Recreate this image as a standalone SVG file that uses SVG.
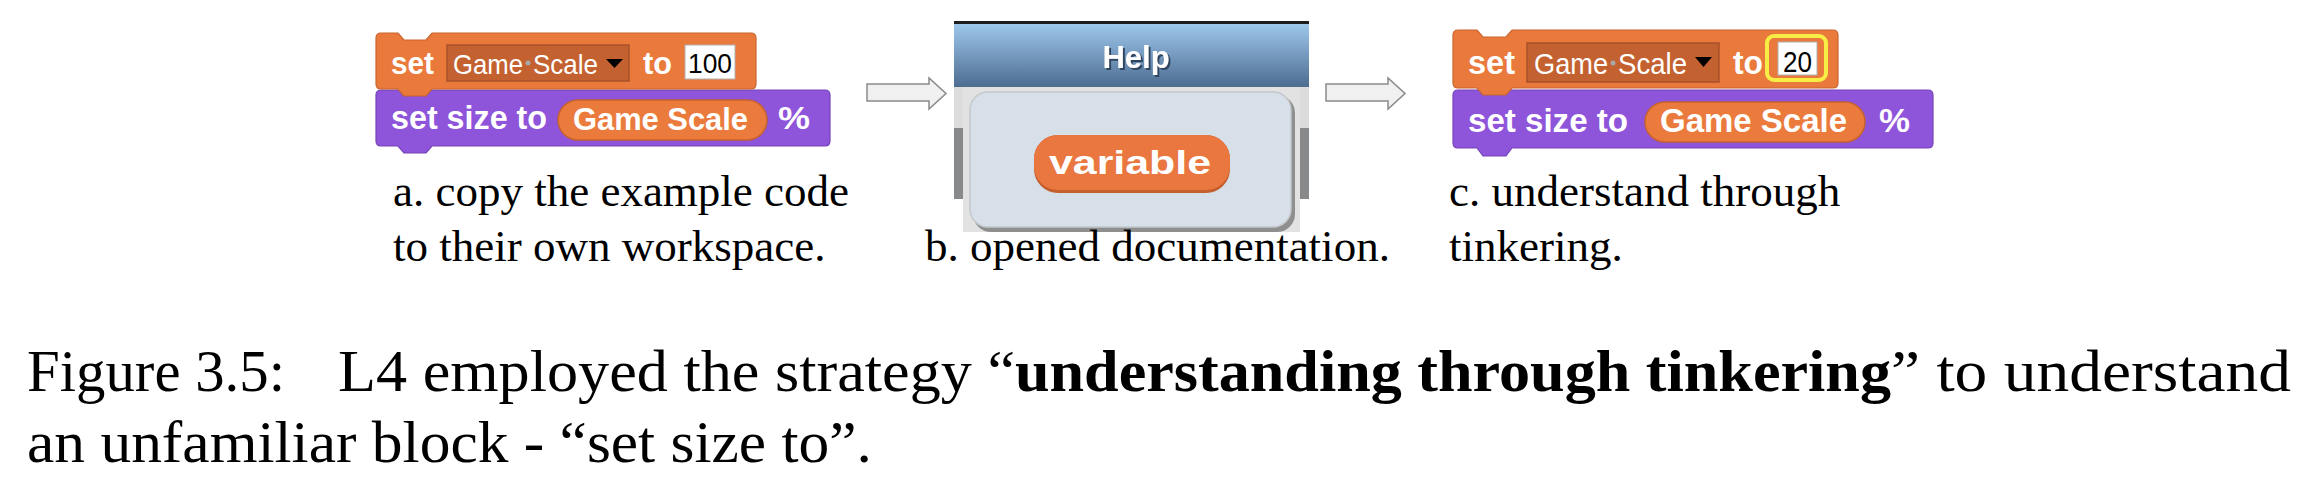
<svg xmlns="http://www.w3.org/2000/svg" width="2324" height="492" viewBox="0 0 2324 492">
<defs>
<linearGradient id="hdr" x1="0" y1="0" x2="0" y2="1">
<stop offset="0" stop-color="#9EC7EC"/>
<stop offset="1" stop-color="#4C6C90"/>
</linearGradient>
<filter id="shadow" x="-20%" y="-20%" width="140%" height="140%">
<feDropShadow dx="2" dy="2" stdDeviation="0.5" flood-color="#2E4460" flood-opacity="1"/>
</filter>
</defs>
<style>
.orange{fill:#EA7A3C;stroke:#C9652F;stroke-width:1.2}
.purple{fill:#8E54DA;stroke:#7443B8;stroke-width:1.2}
.dd{fill:#C46130;stroke:#A9512A;stroke-width:1.5}
.pill{fill:#EB7B3D;stroke:#C7622D;stroke-width:1.5}
.dot{fill:#A9A9A9}
.bw{font-family:"Liberation Sans",Arial,sans-serif;font-weight:bold;fill:#fff}
.nw{font-family:"Liberation Sans",Arial,sans-serif;fill:#fff}
.num{font-family:"Liberation Sans",Arial,sans-serif;fill:#000}
.lbl{font-family:"Liberation Serif","Times New Roman",serif;font-size:45px;fill:#000}
.cap{font-family:"Liberation Serif","Times New Roman",serif;font-size:60px;fill:#000}
.arrow{fill:#F0F0F0;stroke:#8A8A8A;stroke-width:1.5}
</style>
<rect width="2324" height="492" fill="#fff"/>

<g id="block-a">
<path class="purple" d="M376,95 Q376,90 381,90 L825,90 Q830,90 830,95 L830,141 Q830,146 825,146 L432,146 L426,153 L404,153 L398,146 L381,146 Q376,146 376,141 Z"/>
<path class="orange" d="M376,38 Q376,33 381,33 L398,33 L404,40 L426,40 L432,33 L751,33 Q756,33 756,38 L756,84 Q756,89 751,89 L432,89 L426,96 L404,96 L398,89 L381,89 Q376,89 376,84 Z"/>
<text class="bw" x="391" y="74" font-size="32" textLength="43" lengthAdjust="spacingAndGlyphs">set</text>
<rect class="dd" x="447" y="45" width="182" height="36"/>
<text class="nw" x="453" y="74" font-size="28" textLength="70" lengthAdjust="spacingAndGlyphs">Game</text>
<circle class="dot" cx="528" cy="63" r="2.5"/>
<text class="nw" x="533" y="74" font-size="28" textLength="65" lengthAdjust="spacingAndGlyphs">Scale</text>
<path d="M606,59 L623,59 L614.5,68 Z" fill="#000"/>
<text class="bw" x="643" y="74" font-size="32" textLength="29" lengthAdjust="spacingAndGlyphs">to</text>
<rect x="685" y="45" width="50" height="34" fill="#fff" stroke="#B0B0B0" stroke-width="1"/>
<text class="num" x="688" y="73" font-size="28" textLength="44" lengthAdjust="spacingAndGlyphs">100</text>
<text class="bw" x="391" y="129" font-size="33" textLength="156" lengthAdjust="spacingAndGlyphs">set size to</text>
<rect class="pill" x="558" y="100" width="209" height="40" rx="20"/>
<text class="bw" x="573" y="130" font-size="32" textLength="175" lengthAdjust="spacingAndGlyphs">Game Scale</text>
<text class="bw" x="778" y="129" font-size="32" textLength="32" lengthAdjust="spacingAndGlyphs">%</text>
</g>

<g id="connectors">
<polygon class="arrow" points="867,84 929,84 929,78 946,93.5 929,109 929,101 867,101"/>
<polygon class="arrow" points="1326,84 1388,84 1388,78 1405,93.5 1388,109 1388,101 1326,101"/>
</g>

<g id="help-panel">
<rect x="954" y="21" width="355" height="3" fill="#1E1E1E"/>
<rect x="954" y="24" width="355" height="63" fill="url(#hdr)"/>
<text class="bw" x="1136" y="68" font-size="31" text-anchor="middle" filter="url(#shadow)">Help</text>
<rect x="954" y="87" width="355" height="41" fill="#DCDCDC"/>
<rect x="954" y="128" width="355" height="71" fill="#87898B"/>
<rect x="963" y="87" width="337" height="145" fill="#E2E2E2"/>
<rect x="973" y="95" width="322" height="137" rx="18" fill="#8F8F8F"/>
<rect x="970" y="92" width="321" height="135" rx="18" fill="#D7E0E8" stroke="#C4C8CC" stroke-width="1.5"/>
<rect x="1034" y="135" width="196" height="58" rx="24" fill="#C35F2D"/>
<rect x="1034" y="135" width="196" height="55" rx="24" fill="#E9773F"/>
<text class="bw" x="1049" y="174" font-size="34" textLength="162" lengthAdjust="spacingAndGlyphs">variable</text>
</g>

<g id="block-c">
<path class="purple" d="M1453,95 Q1453,90 1458,90 L1928,90 Q1933,90 1933,95 L1933,143 Q1933,148 1928,148 L1512,148 L1506,156 L1483,156 L1477,148 L1458,148 Q1453,148 1453,143 Z"/>
<path class="orange" d="M1453,35 Q1453,30 1458,30 L1477,30 L1483,37 L1506,37 L1512,30 L1833,30 Q1838,30 1838,35 L1838,83 Q1838,88 1833,88 L1512,88 L1506,95 L1483,95 L1477,88 L1458,88 Q1453,88 1453,83 Z"/>
<text class="bw" x="1468" y="74" font-size="33" textLength="47" lengthAdjust="spacingAndGlyphs">set</text>
<rect class="dd" x="1527" y="43" width="192" height="39"/>
<text class="nw" x="1534" y="74" font-size="29" textLength="74" lengthAdjust="spacingAndGlyphs">Game</text>
<circle class="dot" cx="1613" cy="63" r="2.5"/>
<text class="nw" x="1618" y="74" font-size="29" textLength="69" lengthAdjust="spacingAndGlyphs">Scale</text>
<path d="M1695,57 L1712,57 L1703.5,67 Z" fill="#000"/>
<text class="bw" x="1733" y="74" font-size="33" textLength="30" lengthAdjust="spacingAndGlyphs">to</text>
<rect x="1767" y="36" width="59" height="44" rx="7" fill="none" stroke="#F6EE45" stroke-width="4"/>
<rect x="1778" y="42" width="39" height="33" fill="#fff" stroke="#B0B0B0" stroke-width="1"/>
<text class="num" x="1783" y="72" font-size="29" textLength="29" lengthAdjust="spacingAndGlyphs">20</text>
<text class="bw" x="1468" y="132" font-size="34" textLength="160" lengthAdjust="spacingAndGlyphs">set size to</text>
<rect class="pill" x="1645" y="102" width="220" height="40" rx="20"/>
<text class="bw" x="1660" y="132" font-size="33" textLength="187" lengthAdjust="spacingAndGlyphs">Game Scale</text>
<text class="bw" x="1879" y="132" font-size="33" textLength="31" lengthAdjust="spacingAndGlyphs">%</text>
</g>

<g id="labels">
<text class="lbl" x="393" y="206">a. copy the example code</text>
<text class="lbl" x="393" y="261">to their own workspace.</text>
<text class="lbl" x="925" y="261">b. opened documentation.</text>
<text class="lbl" x="1449" y="206">c. understand through</text>
<text class="lbl" x="1449" y="261">tinkering.</text>
</g>

<g id="caption">
<text class="cap" x="27" y="391" textLength="258" lengthAdjust="spacingAndGlyphs">Figure 3.5:</text>
<text class="cap" x="338" y="391" textLength="677" lengthAdjust="spacingAndGlyphs">L4 employed the strategy “</text>
<text class="cap" x="1015" y="391" font-weight="bold" textLength="876" lengthAdjust="spacingAndGlyphs">understanding through tinkering</text>
<text class="cap" x="1891" y="391" textLength="400" lengthAdjust="spacingAndGlyphs">” to understand</text>
<text class="cap" x="27" y="462" textLength="845" lengthAdjust="spacingAndGlyphs">an unfamiliar block - “set size to”.</text>
</g>
</svg>
